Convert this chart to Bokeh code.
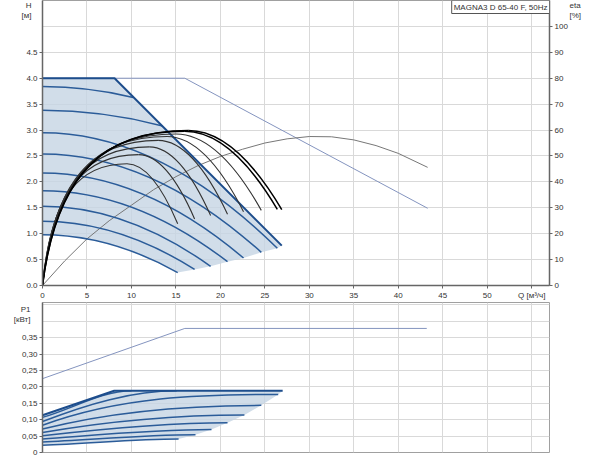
import numpy as np
from bokeh.plotting import figure
from bokeh.layouts import column
from bokeh.models import Range1d, LinearAxis, FixedTicker, CustomJSTickFormatter, Label
from bokeh.embed import file_html
from bokeh.resources import INLINE

# ---------------- data ----------------
q_ticks = [0, 5, 10, 15, 20, 25, 30, 35, 40, 45, 50, 55]
h_ticks = [0.0, 0.5, 1.0, 1.5, 2.0, 2.5, 3.0, 3.5, 4.0, 4.5]
h_grid = [0.0, 0.5, 1.0, 1.5, 2.0, 2.5, 3.0, 3.5, 4.0, 4.5, 5.0]
eta_ticks = [0, 10, 20, 30, 40, 50, 60, 70, 80, 90, 100]
p_ticks = [0.0, 0.05, 0.10, 0.15, 0.20, 0.25, 0.30, 0.35]
p_grid = [0.0, 0.05, 0.10, 0.15, 0.20, 0.25, 0.30, 0.35, 0.40, 0.45]

# max head curve (H, m)
max_q = [0.0, 8.1, 26.9]
max_h = [4.0, 4.0, 0.77]
# constant-speed head curves: head at Q=0, end point
sp_h0 = [3.84, 3.38, 2.95, 2.54, 2.17, 1.83, 1.53, 1.24, 0.98]
sp_qe = [10.2, 13.5, 26.4, 24.6, 22.6, 20.8, 18.9, 17.1, 15.2]
sp_he = [3.63, 3.08, 0.72, 0.64, 0.53, 0.46, 0.37, 0.31, 0.25]
# efficiency curves (eta, %): peak and end point
eta_qp = [9.5, 10.8, 12.0, 13.0, 14.0, 15.0, 16.0, 16.4]
eta_ep = [47.0, 50.5, 53.5, 56.0, 57.5, 58.5, 59.5, 59.8]
eta_qe = [15.2, 17.1, 18.9, 20.8, 22.6, 24.6, 26.4, 26.9]
eta_ee = [23.8, 25.7, 27.0, 27.5, 28.5, 29.0, 29.4, 29.3]
# second pump reference curves
ref_h_q = [0.0, 16.0, 43.3]
ref_h = [4.0, 4.0, 1.49]
ref_eta_q = [0, 2.5, 5, 7.5, 10, 12.5, 15, 17.5, 20, 22.5, 25, 27.5, 30, 32.5, 35, 37.5, 40, 43.3]
ref_eta = [0, 9.5, 18, 25, 31, 37, 42, 46.3, 49.8, 52.6, 55.0, 56.6, 57.5, 57.4, 56.2, 54.0, 51.0, 45.6]

# power P1 (kW)
pmax_q = [0.0, 8.06, 27.0]
pmax = [0.1137, 0.188, 0.188]
p_p0 = [0.107, 0.0944, 0.083, 0.0714, 0.061, 0.051, 0.0414, 0.0318, 0.022]
p_qe = [10.0, 15.1, 26.5, 24.6, 22.7, 20.8, 19.0, 17.2, 15.3]
p_pe = [0.188, 0.188, 0.177, 0.1436, 0.1146, 0.0905, 0.070, 0.054, 0.041]
p_pm = [0.157, 0.161, 0.163, 0.129, 0.1012, 0.0787, 0.0603, 0.0456, 0.033]
ref_p_q = [0.0, 16.0, 43.2]
ref_p = [0.225, 0.378, 0.378]

# axis titles
h_title = ["H", "[м]"]
eta_title = ["eta", "[%]"]
p_title = ["P1", "[кВт]"]
q_title = "Q [м³/ч]"
legend_text = "MAGNA3 D 65-40 F, 50Hz"

# ---------------- styling ----------------
FONT = "Liberation Sans"
BLUE = "#2b5c99"
BLUE_MAX = "#1d4d8c"
FILL = "#c6d4e4"
THIN = "#8494bf"
GRID = "#d9d9d9"
AXIS = "#666666"


def style_axis(ax):
    ax.axis_line_color = AXIS
    ax.axis_line_width = 1.5
    ax.major_tick_line_color = AXIS
    ax.major_tick_out = 3
    ax.major_tick_in = 0
    ax.minor_tick_line_color = None
    ax.major_label_text_font = FONT
    ax.major_label_text_font_size = "8px"
    ax.major_label_text_color = "#333333"
    ax.major_label_standoff = 2


def title_axis(y_range_name, pos_top, pos_low, lines, standoff):
    """An extra axis without line or ticks whose two labels act as the axis title."""
    code = "return tick > %r ? %r : %r;" % ((pos_top + pos_low) / 2, lines[0], lines[1])
    ax = LinearAxis(y_range_name=y_range_name, ticker=FixedTicker(ticks=[pos_low, pos_top]),
                    formatter=CustomJSTickFormatter(code=code))
    style_axis(ax)
    ax.axis_line_color = None
    ax.major_tick_line_color = None
    ax.major_tick_out = 0
    ax.major_label_standoff = standoff
    return ax


X_RANGE = (0, 57)

# ================= top chart =================
top = figure(width=584, height=302, x_range=Range1d(*X_RANGE), y_range=Range1d(0, 5.5),
             output_backend="svg", toolbar_location=None,
             min_border_left=42, min_border_right=35, min_border_top=0, min_border_bottom=15)
top.extra_y_ranges = {"eta": Range1d(0, 110)}
top.background_fill_color = "white"
top.border_fill_color = "white"
top.outline_line_color = "#a0a0a0"
top.xgrid.ticker = FixedTicker(ticks=q_ticks)
top.ygrid.ticker = FixedTicker(ticks=h_grid)
for g in (top.xgrid, top.ygrid):
    g.grid_line_color = GRID
    g.grid_line_width = 1

top.xaxis.ticker = FixedTicker(ticks=q_ticks)
top.xaxis.formatter = CustomJSTickFormatter(
    code="return tick == 55 ? %r : tick.toFixed(0);" % q_title)
top.yaxis.ticker = FixedTicker(ticks=h_ticks)
top.yaxis.formatter = CustomJSTickFormatter(code="return tick.toFixed(1);")
eta_axis = LinearAxis(y_range_name="eta", ticker=FixedTicker(ticks=eta_ticks),
                      formatter=CustomJSTickFormatter(code="return tick.toFixed(0);"))
top.add_layout(eta_axis, "right")
for ax in top.xaxis + top.yaxis:
    style_axis(ax)
style_axis(eta_axis)
top.add_layout(title_axis("default", 5.40, 5.21, h_title, -8), "left")
top.add_layout(title_axis("eta", 108.0, 104.2, eta_title, -1), "right")

# filled operating area
h0_low, qe_low, he_low = sp_h0[-1], sp_qe[-1], sp_he[-1]
t = np.linspace(1, 0, 40)
low_x = 2 * (1 - t) * t * (qe_low / 2) + t ** 2 * qe_low
low_y = (1 - t) ** 2 * h0_low + 2 * (1 - t) * t * h0_low + t ** 2 * he_low
end_idx = [2, 3, 4, 5, 6, 7, 8]
fx = list(max_q) + [sp_qe[i] for i in end_idx] + list(low_x)
fy = list(max_h) + [sp_he[i] for i in end_idx] + list(low_y)
top.patch(fx, fy, fill_color=FILL, fill_alpha=0.8, line_color=None)

# reference thin curves
top.line(ref_h_q, ref_h, line_color=THIN, line_width=1)
top.line(ref_eta_q, ref_eta, y_range_name="eta", line_color="#777777", line_width=1)

# speed curves
top.quadratic(x0=[0.0] * len(sp_h0), y0=sp_h0, x1=sp_qe, y1=sp_he,
              cx=[q / 2 for q in sp_qe], cy=sp_h0, line_color=BLUE, line_width=1.5)
top.line(max_q, max_h, line_color=BLUE_MAX, line_width=2)

# efficiency curves
n = len(eta_qp)
widths = [1.1] * (n - 2) + [1.5, 1.5]
colors = ["#333333"] * (n - 2) + ["#000000", "#000000"]
for i in range(n):
    qp, ep, qe, ee = eta_qp[i], eta_ep[i], eta_qe[i], eta_ee[i]
    top.bezier(x0=[0.0], y0=[0.0], x1=[qp], y1=[ep], cx0=[0.1 * qp], cy0=[0.75 * ep],
               cx1=[0.45 * qp], cy1=[ep], y_range_name="eta",
               line_color=colors[i], line_width=widths[i])
    top.quadratic(x0=[qp], y0=[ep], x1=[qe], y1=[ee], cx=[(qp + qe) / 2], cy=[ep],
                  y_range_name="eta", line_color=colors[i], line_width=widths[i])

top.add_layout(Label(x=57, y=5.5, text=legend_text, text_font=FONT,
                     text_font_size="8px", text_color="#333333", text_align="right",
                     text_baseline="top", border_line_color="#555555", border_line_width=1,
                     background_fill_color="white", padding=2))

# ================= bottom chart =================
bot = figure(width=584, height=156, x_range=Range1d(*X_RANGE), y_range=Range1d(0, 0.457),
             output_backend="svg", toolbar_location=None,
             min_border_left=42, min_border_right=35, min_border_top=0, min_border_bottom=6)
bot.background_fill_color = "white"
bot.border_fill_color = "white"
bot.outline_line_color = "#a0a0a0"
bot.xgrid.ticker = FixedTicker(ticks=q_ticks)
bot.ygrid.ticker = FixedTicker(ticks=p_grid)
for g in (bot.xgrid, bot.ygrid):
    g.grid_line_color = GRID
    g.grid_line_width = 1
bot.xaxis.visible = False
bot.yaxis.ticker = FixedTicker(ticks=p_ticks)
bot.yaxis.formatter = CustomJSTickFormatter(
    code="return tick == 0 ? '0' : tick.toFixed(2).replace('.', ',');")
for ax in bot.yaxis:
    style_axis(ax)
bot.add_layout(title_axis("default", 0.4357, 0.405, p_title, -12), "left")

# power curves: cubic with flat end
p_c1 = [(p_pm[i] - 0.125 * p_p0[i] - 0.5 * p_pe[i]) / 0.375 for i in range(len(p_p0))]
i_low = len(p_p0) - 1
tt = np.linspace(1, 0, 40)
b0, b1, b2, b3 = (1 - tt) ** 3, 3 * (1 - tt) ** 2 * tt, 3 * (1 - tt) * tt ** 2, tt ** 3
qe = p_qe[i_low]
plow_x = b1 * qe / 3 + b2 * 2 * qe / 3 + b3 * qe
plow_y = b0 * p_p0[i_low] + b1 * p_c1[i_low] + b2 * p_pe[i_low] + b3 * p_pe[i_low]
pend = [2, 3, 4, 5, 6, 7, 8]
bx = list(pmax_q) + [p_qe[i] for i in pend] + list(plow_x)
by = list(pmax) + [p_pe[i] for i in pend] + list(plow_y)
bot.patch(bx, by, fill_color=FILL, fill_alpha=0.8, line_color=None)

bot.line(ref_p_q, ref_p, line_color=THIN, line_width=1)
bot.bezier(x0=[0.0] * len(p_p0), y0=p_p0, x1=p_qe, y1=p_pe,
           cx0=[q / 3 for q in p_qe], cy0=p_c1, cx1=[2 * q / 3 for q in p_qe], cy1=p_pe,
           line_color=BLUE, line_width=1.5)
bot.line(pmax_q, pmax, line_color=BLUE_MAX, line_width=2)

page = column(top, bot)
open("out.html", "w").write(file_html(page, INLINE))
